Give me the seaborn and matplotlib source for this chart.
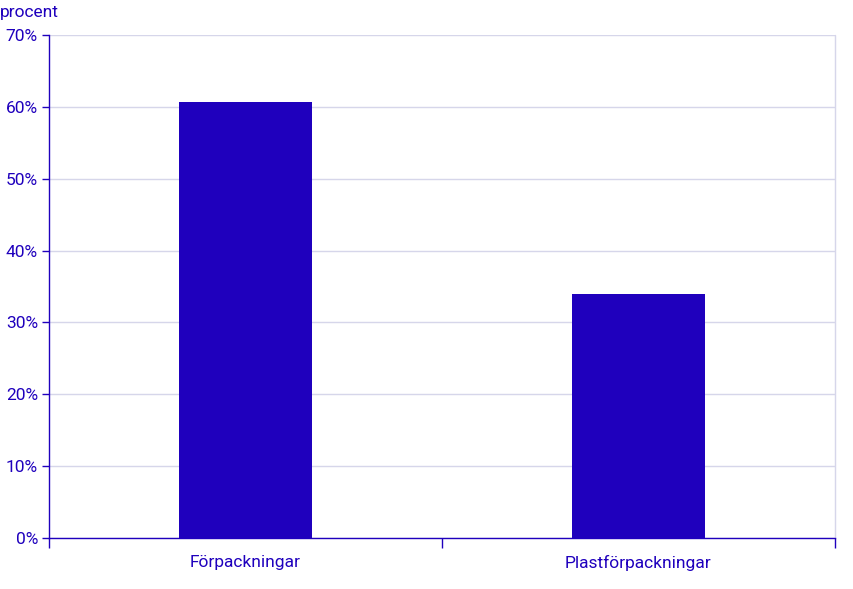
import seaborn as sns
import pandas as pd
import matplotlib.pyplot as plt
from matplotlib.ticker import PercentFormatter, FixedLocator

# Data
categories = ["Förpackningar", "Plastförpackningar"]
shares = [60.7, 34.0]

bar_color = "#1f00bd"
text_color = "#1f00bd"
grid_color = "#d6d6ea"

sns.set_theme(style="white")
plt.rcParams["font.family"] = ["Roboto", "DejaVu Sans"]

df = pd.DataFrame({"kategori": categories, "andel": shares})

fig = plt.figure(figsize=(8.54, 5.89), dpi=100)
ax = fig.add_axes([49 / 854, 51 / 589, (835 - 49) / 854, (538 - 35) / 589])

sns.barplot(data=df, x="kategori", y="andel", color=bar_color, width=0.336,
            saturation=1, ax=ax, zorder=3, linewidth=0)

ax.set_xlim(-0.5, 1.5)
ax.set_ylim(0, 70)
ax.set_yticks(range(0, 71, 10))
ax.yaxis.set_major_formatter(PercentFormatter(decimals=0))
ax.grid(axis="y", color=grid_color, linewidth=1, zorder=0)
ax.axvline(1.5, color=grid_color, linewidth=1, zorder=0, clip_on=False)

ax.set_xlabel("")
ax.set_ylabel("")

for side in ["top", "right"]:
    ax.spines[side].set_visible(False)
for side in ["left", "bottom"]:
    ax.spines[side].set_color(text_color)
    ax.spines[side].set_linewidth(1)

ax.tick_params(axis="y", colors=text_color, labelsize=12.5, length=5, width=1,
               direction="out", left=True, pad=3)
ax.tick_params(axis="x", which="major", colors=text_color, labelsize=12.5,
               length=0, pad=12)
ax.xaxis.set_minor_locator(FixedLocator([-0.5, 0.5, 1.5]))
ax.tick_params(axis="x", which="minor", bottom=True, length=7, width=1,
               color=text_color, direction="out")

fig.text(0, 1 - 12 / 589, "procent", color=text_color, fontsize=12.5,
         ha="left", va="center")

fig.savefig("out.png", dpi=100, facecolor="white")
